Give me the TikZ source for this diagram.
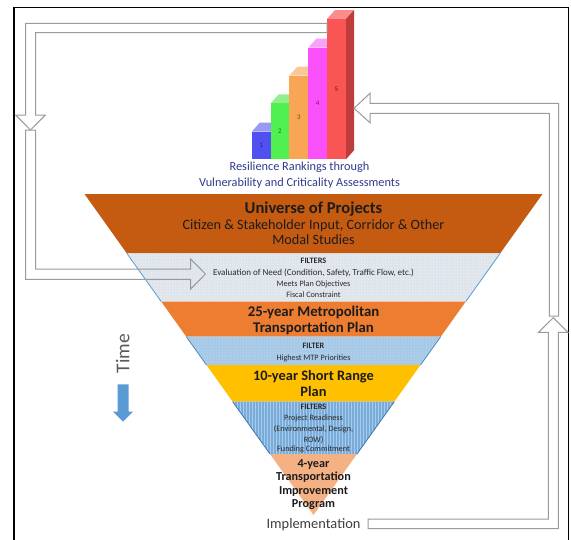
\documentclass[tikz,border=0pt]{standalone}
\usepackage{fontspec}
\setmainfont{Carlito}
\usetikzlibrary{patterns}
\definecolor{unic}{HTML}{C55A11}
\definecolor{fone}{HTML}{E2E8EE}
\definecolor{foned}{HTML}{C3CEDA}
\definecolor{mtpc}{HTML}{ED7D31}
\definecolor{ftwo}{HTML}{A6C9E8}
\definecolor{ftwod}{HTML}{D6E6F4}
\definecolor{srpc}{HTML}{FFC000}
\definecolor{fthree}{HTML}{79ABDB}
\definecolor{fthreed}{HTML}{A9CBEA}
\definecolor{tipc}{HTML}{F4B183}
\definecolor{edgeone}{HTML}{5B9BD5}
\definecolor{edgetwo}{HTML}{4F89C2}
\definecolor{edgethree}{HTML}{3A78B5}
\definecolor{arrgray}{HTML}{9A9A9A}
\definecolor{timeblue}{HTML}{5B9BD5}
\definecolor{resltext}{HTML}{2F3C8A}
\definecolor{darktext}{HTML}{1C1C1C}
\definecolor{filttext}{HTML}{2A2A2A}
\definecolor{impltext}{HTML}{3F3F3F}
\definecolor{timetext}{HTML}{595959}
\definecolor{bonef}{HTML}{5050F0}\definecolor{bonet}{HTML}{9898F5}\definecolor{bonen}{HTML}{1F1F9A}
\definecolor{btwof}{HTML}{50F050}\definecolor{btwot}{HTML}{90F090}\definecolor{btwon}{HTML}{1F7A1F}
\definecolor{bthreef}{HTML}{F8A555}\definecolor{bthreet}{HTML}{FAC896}\definecolor{bthreen}{HTML}{7A4A10}
\definecolor{bfourf}{HTML}{FA50FA}\definecolor{bfourt}{HTML}{FAA0FA}\definecolor{bfourn}{HTML}{7A107A}
\definecolor{bfivef}{HTML}{FA5555}\definecolor{bfivet}{HTML}{FA8C8C}\definecolor{bfiven}{HTML}{7A1010}
\definecolor{bfives}{HTML}{BE3C3C}
\begin{document}
\begin{tikzpicture}[x=1pt,y=-1pt,
  lbl/.style={anchor=base, inner sep=0pt},
  resl/.style={lbl, text=resltext, font=\fontsize{12.3}{13}\selectfont},
  unib/.style={lbl, text=darktext, font=\fontsize{16.6}{17}\selectfont\bfseries},
  bigb/.style={lbl, text=darktext, font=\fontsize{14.8}{16}\selectfont\bfseries},
  srb/.style={lbl, text=darktext, font=\fontsize{14.4}{16}\selectfont\bfseries},
  midr/.style={lbl, text=darktext, font=\fontsize{14.2}{15}\selectfont},
  filtb/.style={lbl, text=filttext, font=\fontsize{8.3}{9}\selectfont\bfseries},
  filtr/.style={lbl, text=filttext, font=\fontsize{8.2}{9}\selectfont},
  filtw/.style={lbl, text=filttext, font=\fontsize{9}{10}\selectfont},
  tipb/.style={lbl, text=darktext, font=\fontsize{12.2}{13}\selectfont\bfseries},
  numlbl/.style={inner sep=0pt, font=\fontsize{7}{8}\selectfont},
  blockarrow/.style={draw=arrgray, line width=1pt, line join=miter},
]
\useasboundingbox (0,0) rectangle (571,539);
\clip (0,0) rectangle (571,539);
\fill[white] (0,0) rectangle (571,539);

% frame
\draw[line width=1.2pt, black] (14,7.3) rectangle (568.3,560);

% bars
\foreach \xa/\xb/\yt/\cf/\ct/\cn/\n in {
  251.7/270.7/131.7/bonef/bonet/bonen/1,
  270.7/289.3/103.3/btwof/btwot/btwon/2,
  289.3/308.3/75.7/bthreef/bthreet/bthreen/3,
  308.3/327/47.7/bfourf/bfourt/bfourn/4,
  327/346/19/bfivef/bfivet/bfiven/5}{
  \fill[\ct] (\xa,\yt) -- (\xb,\yt) -- (\xb+8,\yt-9) -- (\xa+8,\yt-9) -- cycle;
  \fill[\cf] (\xa,\yt) rectangle (\xb,159.3);
  \node[numlbl, text=\cn] (n\n) at ({(\xa+\xb)/2},{(\yt+159.3)/2}) {\n};
}
\fill[bfives] (346,159.3) -- (346,19) -- (354,10) -- (354,150.3) -- cycle;

% resilience text
\node[resl] (r1) at (299.5,170.7) {Resilience Rankings through};
\node[resl] (r2) at (299.5,186) {Vulnerability and Criticality Assessments};

% funnel
\fill[unic] (84.5,194) -- (542.5,194) -- (500.2,253.3) -- (126.8,253.3) -- cycle;
\fill[fone, postaction={pattern=dots, pattern color=foned}] (126.8,253.3) -- (500.2,253.3) -- (465.7,301.7) -- (161.3,301.7) -- cycle;
\draw[edgeone, line width=0.8pt] (126.8,253.3) -- (161.3,301.7) (500.2,253.3) -- (465.7,301.7);
\fill[mtpc] (161.3,301.7) -- (465.7,301.7) -- (440.7,336.7) -- (186.3,336.7) -- cycle;
\fill[ftwo, postaction={pattern=dots, pattern color=ftwod}] (186.3,336.7) -- (440.7,336.7) -- (420.5,365) -- (206.5,365) -- cycle;
\draw[edgetwo, line width=0.8pt] (186.3,336.7) -- (206.5,365) (440.7,336.7) -- (420.5,365);
\fill[srpc] (206.5,365) -- (420.5,365) -- (394.3,401.7) -- (232.7,401.7) -- cycle;
\fill[fthree, postaction={pattern=vertical lines, pattern color=fthreed}] (232.7,401.7) -- (394.3,401.7) -- (357,454) -- (270,454) -- cycle;
\draw[edgethree, line width=0.8pt] (232.7,401.7) -- (270,454) (394.3,401.7) -- (357,454);
\fill[tipc] (270,454) -- (357,454) -- (313.5,515) -- cycle;

% funnel texts
\node[unib] (u1) at (313.5,213.3) {Universe of Projects};
\node[midr] (u2) at (313.5,229.7) {Citizen \& Stakeholder Input, Corridor \& Other};
\node[midr] (u3) at (313.5,244.7) {Modal Studies};

\node[filtb] (fa0) at (313.5,263.7) {FILTERS};
\node[filtw] (fa1) at (313.5,275.5) {Evaluation of Need (Condition, Safety, Traffic Flow, etc.)};
\node[filtr] (fa2) at (313.5,286.5) {Meets Plan Objectives};
\node[filtr] (fa3) at (313.5,297.5) {Fiscal Constraint};

\node[bigb] (m1) at (313.5,316.5) {25-year Metropolitan};
\node[bigb] (m2) at (313.5,332.3) {Transportation Plan};

\node[filtb] (fb0) at (313.5,348.5) {FILTER};
\node[filtr] (fb1) at (313.5,360.5) {Highest MTP Priorities};

\node[srb] (s1) at (313.5,380.7) {10-year Short Range};
\node[srb] (s2) at (313.5,396.5) {Plan};

\node[filtb] (fc0) at (313.5,409.5) {FILTERS};
\node[filtr] (fc1) at (313.5,420.5) {Project Readiness};
\node[filtr] (fc2) at (313.5,431.5) {(Environmental, Design,};
\node[filtr] (fc3) at (313.5,442) {ROW)};
\node[filtr] (fc4) at (313.5,451.5) {Funding Commitment};

\node[tipb] (t1) at (313.5,467.3) {4-year};
\node[tipb] (t2) at (313.5,480.7) {Transportation};
\node[tipb] (t3) at (313.5,494) {Improvement};
\node[tipb] (t4) at (313.5,507.3) {Program};

\node[lbl, text=impltext, font=\fontsize{14.4}{15}\selectfont] (impl) at (313.5,528) {Implementation};

% time
\node[lbl, rotate=90, text=timetext, font=\fontsize{19.5}{20}\selectfont] (time) at (129.3,353.7) {Time};
\fill[timeblue] (117.5,384.3) -- (128.5,384.3) -- (128.5,411.7) -- (133,411.7) -- (123,421.7) -- (113,411.7) -- (117.5,411.7) -- cycle;

% feedback block arrows
\draw[blockarrow] (327,23.3) -- (25.5,23.3) -- (25.5,115) -- (15.7,115) -- (30.5,130) -- (45.3,115) -- (35.5,115) -- (35.5,32.7) -- (327,32.7) -- cycle;
\draw[blockarrow] (25.5,130) -- (25.5,279.3) -- (190.7,279.3) -- (190.7,289) -- (205.5,274) -- (190.7,259) -- (190.7,269) -- (35.5,269) -- (35.5,130) -- cycle;
\draw[blockarrow] (368,519) -- (548.3,519) -- (548.3,332.3) -- (538.5,332.3) -- (553.3,317.7) -- (568,332.3) -- (558.3,332.3) -- (558.3,528.7) -- (368,528.7) -- cycle;
\draw[blockarrow] (549.3,316) -- (549.3,113.3) -- (370,113.3) -- (370,122.7) -- (354,108.3) -- (370,93.3) -- (370,103.3) -- (558.7,103.3) -- (558.7,316) -- cycle;
\end{tikzpicture}
\end{document}
